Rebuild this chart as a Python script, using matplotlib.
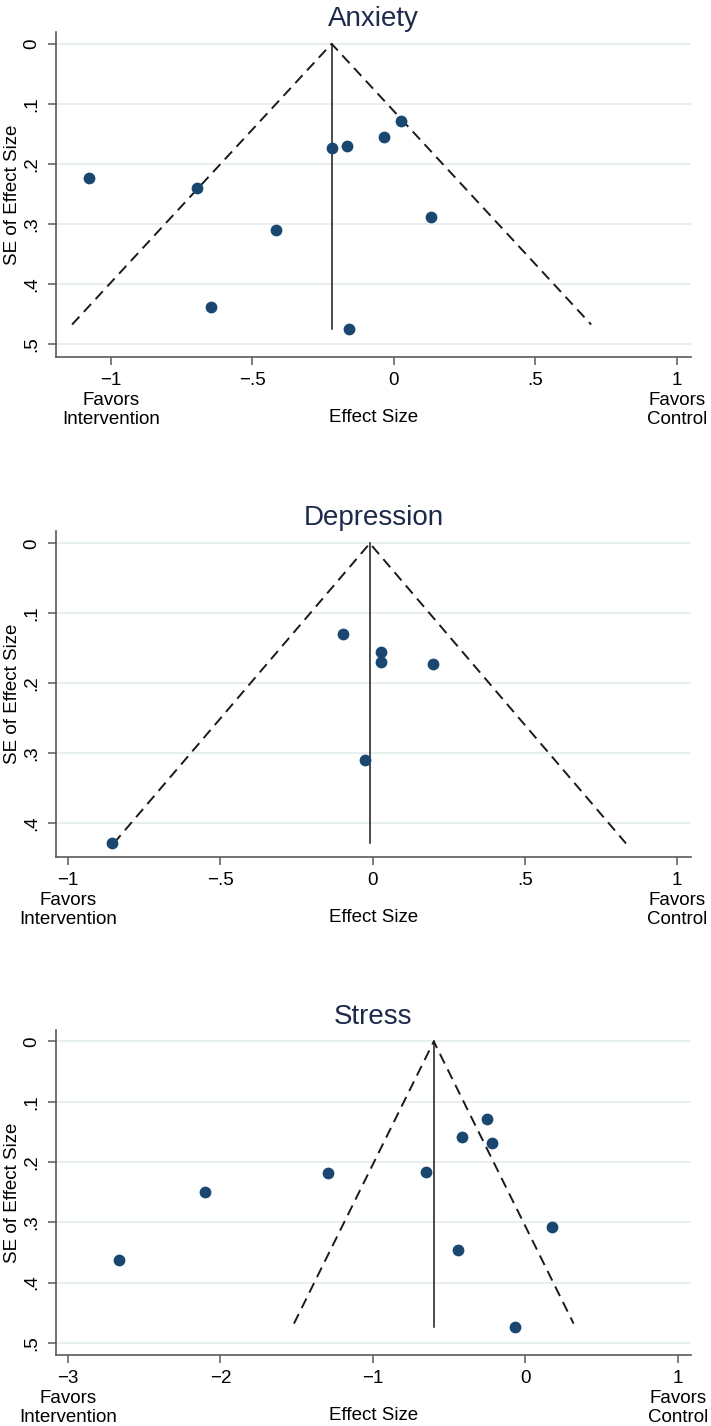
import matplotlib
matplotlib.use("Agg")
import matplotlib.pyplot as plt
import numpy as np

plt.rcParams["font.family"] = ["Liberation Sans", "DejaVu Sans"]

# ── datos ────────────────────────────────────────────────
anx_es = [-1.077, -0.695, -0.220, -0.167, -0.035, 0.026, 0.133, -0.415, -0.646, -0.159]
anx_se = [0.224, 0.241, 0.173, 0.170, 0.156, 0.129, 0.288, 0.310, 0.438, 0.475]
anx_pooled = -0.220
anx_funnel_se = 0.468

dep_es = [-0.096, 0.027, 0.027, 0.199, -0.024, -0.854]
dep_se = [0.130, 0.156, 0.170, 0.172, 0.309, 0.428]
dep_pooled = -0.009
dep_funnel_se = 0.429

str_es = [-2.663, -2.104, -1.293, -0.651, -0.412, -0.254, -0.221, 0.176, -0.442, -0.069]
str_se = [0.362, 0.249, 0.219, 0.216, 0.158, 0.128, 0.168, 0.308, 0.346, 0.474]
str_pooled = -0.600
str_funnel_se = 0.468

anx_xticks = [-1, -0.5, 0, 0.5, 1]
anx_xlabels = ["\u22121\nFavors\nIntervention", "\u2212.5", "0", ".5", "1\nFavors\nControl"]
dep_xticks = [-1, -0.5, 0, 0.5, 1]
dep_xlabels = ["\u22121\nFavors\nIntervention", "\u2212.5", "0", ".5", "1\nFavors\nControl"]
str_xticks = [-3, -2, -1, 0, 1]
str_xlabels = ["\u22123\nFavors\nIntervention", "\u22122", "\u22121", "0", "1\nFavors\nControl"]

y5 = [0, 0.1, 0.2, 0.3, 0.4, 0.5]
y5_labels = ["0", ".1", ".2", ".3", ".4", ".5"]
y4 = [0, 0.1, 0.2, 0.3, 0.4]
y4_labels = ["0", ".1", ".2", ".3", ".4"]

# ── estilo ───────────────────────────────────────────────
PUNTO = "#1a476f"
TITULO = "#1e2a4c"
GRID = "#e6eef0"
EJE = "#5a5a5a"
FS = 13.5


def funnel(ax, titulo, es, se, pooled, fse, xticks, xlabels, yticks, ylabels, xlim, ylim):
    for y in yticks:
        ax.axhline(y, color=GRID, linewidth=1.3, zorder=0)
    ax.plot([pooled - 1.96 * fse, pooled, pooled + 1.96 * fse], [fse, 0, fse],
            color="#1a1a1a", linewidth=1.4, dashes=(5.5, 3.4), zorder=2)
    ax.plot([pooled, pooled], [0, max(se)], color="#1a1a1a", linewidth=1.1, zorder=2)
    ax.scatter(es, se, s=72, color=PUNTO, zorder=3, linewidths=0)

    ax.set_xlim(*xlim)
    ax.set_ylim(*ylim)
    ax.set_xticks(xticks)
    ax.set_xticklabels(xlabels, fontsize=FS)
    for t in ax.get_xticklabels():
        t.set_linespacing(1.2)
    ax.set_yticks(yticks)
    ax.set_yticklabels(ylabels, fontsize=FS, rotation=90, va="center")

    for s in ["top", "right"]:
        ax.spines[s].set_visible(False)
    for s in ["left", "bottom"]:
        ax.spines[s].set_color(EJE)
        ax.spines[s].set_linewidth(1.2)
    ax.tick_params(axis="both", direction="out", length=6, width=1.1, color=EJE, pad=5)

    ax.set_title(titulo, fontsize=20, color=TITULO, pad=4)
    ax.set_xlabel("Effect Size", fontsize=FS)
    ax.xaxis.set_label_coords(0.5, -0.185)
    ax.xaxis.label.set_va("center")
    ax.set_ylabel("SE of Effect Size", fontsize=FS)
    ax.yaxis.set_label_coords(-0.069, 0.5)
    ax.yaxis.label.set_va("center")


fig = plt.figure(figsize=(7.11, 14.26), dpi=100, facecolor="white")

ax1 = fig.add_axes([0.0788, 0.7497, 0.893, 0.228])
funnel(ax1, "Anxiety", anx_es, anx_se, anx_pooled, anx_funnel_se,
       anx_xticks, anx_xlabels, y5, y5_labels, (-1.194, 1.05), (0.522, -0.020))

ax2 = fig.add_axes([0.0788, 0.3992, 0.893, 0.2286])
funnel(ax2, "Depression", dep_es, dep_se, dep_pooled, dep_funnel_se,
       dep_xticks, dep_xlabels, y4, y4_labels, (-1.039, 1.045), (0.448, -0.018))

ax3 = fig.add_axes([0.0788, 0.0498, 0.893, 0.2279])
funnel(ax3, "Stress", str_es, str_se, str_pooled, str_funnel_se,
       str_xticks, str_xlabels, y5, y5_labels, (-3.078, 1.087), (0.520, -0.019))

fig.savefig("out.png", dpi=100, facecolor="white")
